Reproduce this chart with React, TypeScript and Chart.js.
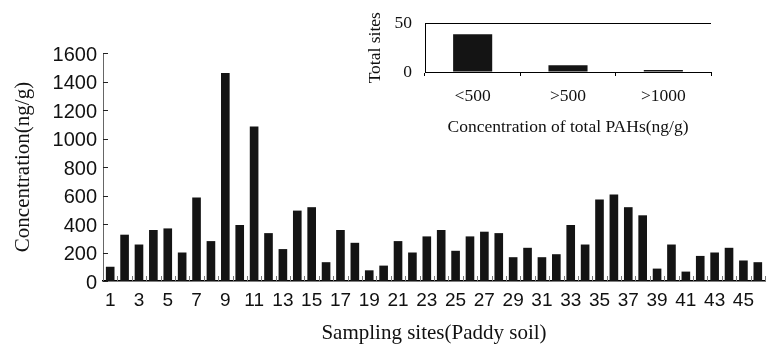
import React, { useEffect, useRef } from "react";
import { Chart, registerables } from "chart.js";

Chart.register(...registerables);

const siteLabels = [
  "1", "2", "3", "4", "5", "6", "7", "8", "9", "10",
  "11", "12", "13", "14", "15", "16", "17", "18", "19", "20",
  "21", "22", "23", "24", "25", "26", "27", "28", "29", "30",
  "31", "32", "33", "34", "35", "36", "37", "38", "39", "40",
  "41", "42", "43", "44", "45", "46",
];

const concentrations = [
  100, 325, 256, 358, 369, 200, 586, 280, 1459, 393,
  1085, 336, 224, 494, 518, 132, 358, 268, 75, 108,
  280, 200, 313, 358, 212, 313, 346, 336, 167, 233,
  167, 188, 393, 256, 572, 607, 518, 461, 87, 256,
  66, 176, 200, 233, 144, 132,
];

const yTicksMain = [0, 200, 400, 600, 800, 1000, 1200, 1400, 1600];

const insetCategories = ["<500", ">500", ">1000"];
const insetCounts = [39, 7, 2];
const insetTicks = [0, 50];

const SANS = "'Liberation Sans', Arial, sans-serif";
const SERIF = "'Liberation Serif', 'Times New Roman', serif";

const insideTicks = {
  id: "insideTicks",
  afterDraw(chart: any) {
    const { ctx, chartArea, scales } = chart;
    const x = scales.x;
    const y = scales.y;
    ctx.save();
    ctx.lineWidth = 1;
    ctx.strokeStyle = "#222";
    y.ticks.forEach((t: any) => {
      const py = Math.round(y.getPixelForValue(t.value)) + 0.5;
      ctx.beginPath();
      ctx.moveTo(chartArea.left, py);
      ctx.lineTo(chartArea.left + 5, py);
      ctx.stroke();
    });
    ctx.strokeStyle = "#777";
    const n = x.ticks.length;
    for (let i = 0; i < n; i++) {
      const bx =
        i < n - 1
          ? (x.getPixelForValue(i) + x.getPixelForValue(i + 1)) / 2
          : chartArea.right;
      const px = Math.round(bx) + 0.5;
      ctx.beginPath();
      ctx.moveTo(px, chartArea.bottom);
      ctx.lineTo(px, chartArea.bottom - 5);
      ctx.stroke();
    }
    ctx.restore();
  },
};

export default function App() {
  const mainRef = useRef<HTMLCanvasElement>(null);
  const insetRef = useRef<HTMLCanvasElement>(null);

  useEffect(() => {
    document.body.style.margin = "0";
    const main = new Chart(mainRef.current as HTMLCanvasElement, {
      type: "bar",
      data: {
        labels: siteLabels,
        datasets: [
          {
            data: concentrations,
            backgroundColor: "#141414",
            borderWidth: 0,
            barPercentage: 0.6,
            categoryPercentage: 1,
          },
        ],
      },
      options: {
        animation: false,
        responsive: false,
        maintainAspectRatio: false,
        layout: { padding: { top: 53, right: 6, bottom: 0, left: 0 } },
        plugins: { legend: { display: false }, tooltip: { enabled: false } },
        scales: {
          x: {
            grid: { display: false, drawTicks: false },
            border: { display: true, color: "#000", width: 1.5 },
            ticks: {
              autoSkip: false,
              maxRotation: 0,
              minRotation: 0,
              padding: 8,
              color: "#111",
              font: { family: SANS, size: 19 },
              callback: (_v: any, i: number) => (i % 2 === 0 ? siteLabels[i] : ""),
            },
            title: {
              display: true,
              text: "Sampling sites(Paddy soil)",
              color: "#111",
              font: { family: SERIF, size: 21 },
              padding: { top: 0, bottom: -1 },
            },
            afterFit: (s: any) => {
              s.height = 64;
            },
          },
          y: {
            min: 0,
            max: 1600,
            afterBuildTicks: (s: any) => {
              s.ticks = yTicksMain.map((v) => ({ value: v }));
            },
            grid: { display: false, drawTicks: false },
            border: { display: true, color: "#666", width: 1 },
            ticks: {
              padding: 6,
              labelOffset: 2,
              color: "#111",
              font: { family: SANS, size: 20 },
              callback: (v: any) => String(v),
            },
            title: {
              display: true,
              text: "Concentration(ng/g)",
              color: "#111",
              font: { family: SERIF, size: 21 },
              padding: { top: 11, bottom: 0 },
            },
            afterFit: (s: any) => {
              s.width = 103;
            },
          },
        },
      },
      plugins: [insideTicks],
    } as any);

    const inset = new Chart(insetRef.current as HTMLCanvasElement, {
      type: "bar",
      data: {
        labels: insetCategories,
        datasets: [
          {
            data: insetCounts,
            backgroundColor: "#141414",
            borderWidth: 0,
            barPercentage: 0.41,
            categoryPercentage: 1,
          },
        ],
      },
      options: {
        animation: false,
        responsive: false,
        maintainAspectRatio: false,
        layout: { padding: { top: 16, right: 60, bottom: 0, left: 0 } },
        plugins: { legend: { display: false }, tooltip: { enabled: false } },
        scales: {
          x: {
            grid: {
              display: true,
              drawOnChartArea: false,
              drawTicks: true,
              tickLength: 4,
              color: "#000",
              offset: true,
            },
            border: { display: true, color: "#000", width: 1 },
            ticks: {
              padding: 10,
              color: "#111",
              font: { family: SERIF, size: 17.5 },
            },
            title: {
              display: true,
              text: "Concentration of total PAHs(ng/g)",
              color: "#111",
              font: { family: SERIF, size: 17.5 },
              padding: { top: 0, bottom: 2 },
            },
            afterFit: (s: any) => {
              s.height = 68;
            },
          },
          y: {
            min: 0,
            max: 50,
            afterBuildTicks: (s: any) => {
              s.ticks = insetTicks.map((v) => ({ value: v }));
            },
            ticks: {
              padding: 13,
              color: "#111",
              font: { family: SERIF, size: 17.5 },
              callback: (v: any) => String(v),
            },
            grid: { display: true, drawTicks: false, color: "#000", lineWidth: 1 },
            border: { display: true, color: "#000", width: 1 },
            title: {
              display: true,
              text: "Total sites",
              color: "#111",
              font: { family: SERIF, size: 17.5 },
              padding: { top: 14.5, bottom: 0 },
            },
            afterFit: (s: any) => {
              s.width = 75;
            },
          },
        },
      },
    } as any);

    return () => {
      main.destroy();
      inset.destroy();
    };
  }, []);

  return (
    <div style={{ position: "relative", width: 771, height: 345, background: "#fff" }}>
      <canvas
        ref={mainRef}
        width={771}
        height={345}
        style={{ position: "absolute", left: 0, top: 0 }}
      />
      <canvas
        ref={insetRef}
        width={421}
        height={140}
        style={{ position: "absolute", left: 350, top: 0 }}
      />
    </div>
  );
}
